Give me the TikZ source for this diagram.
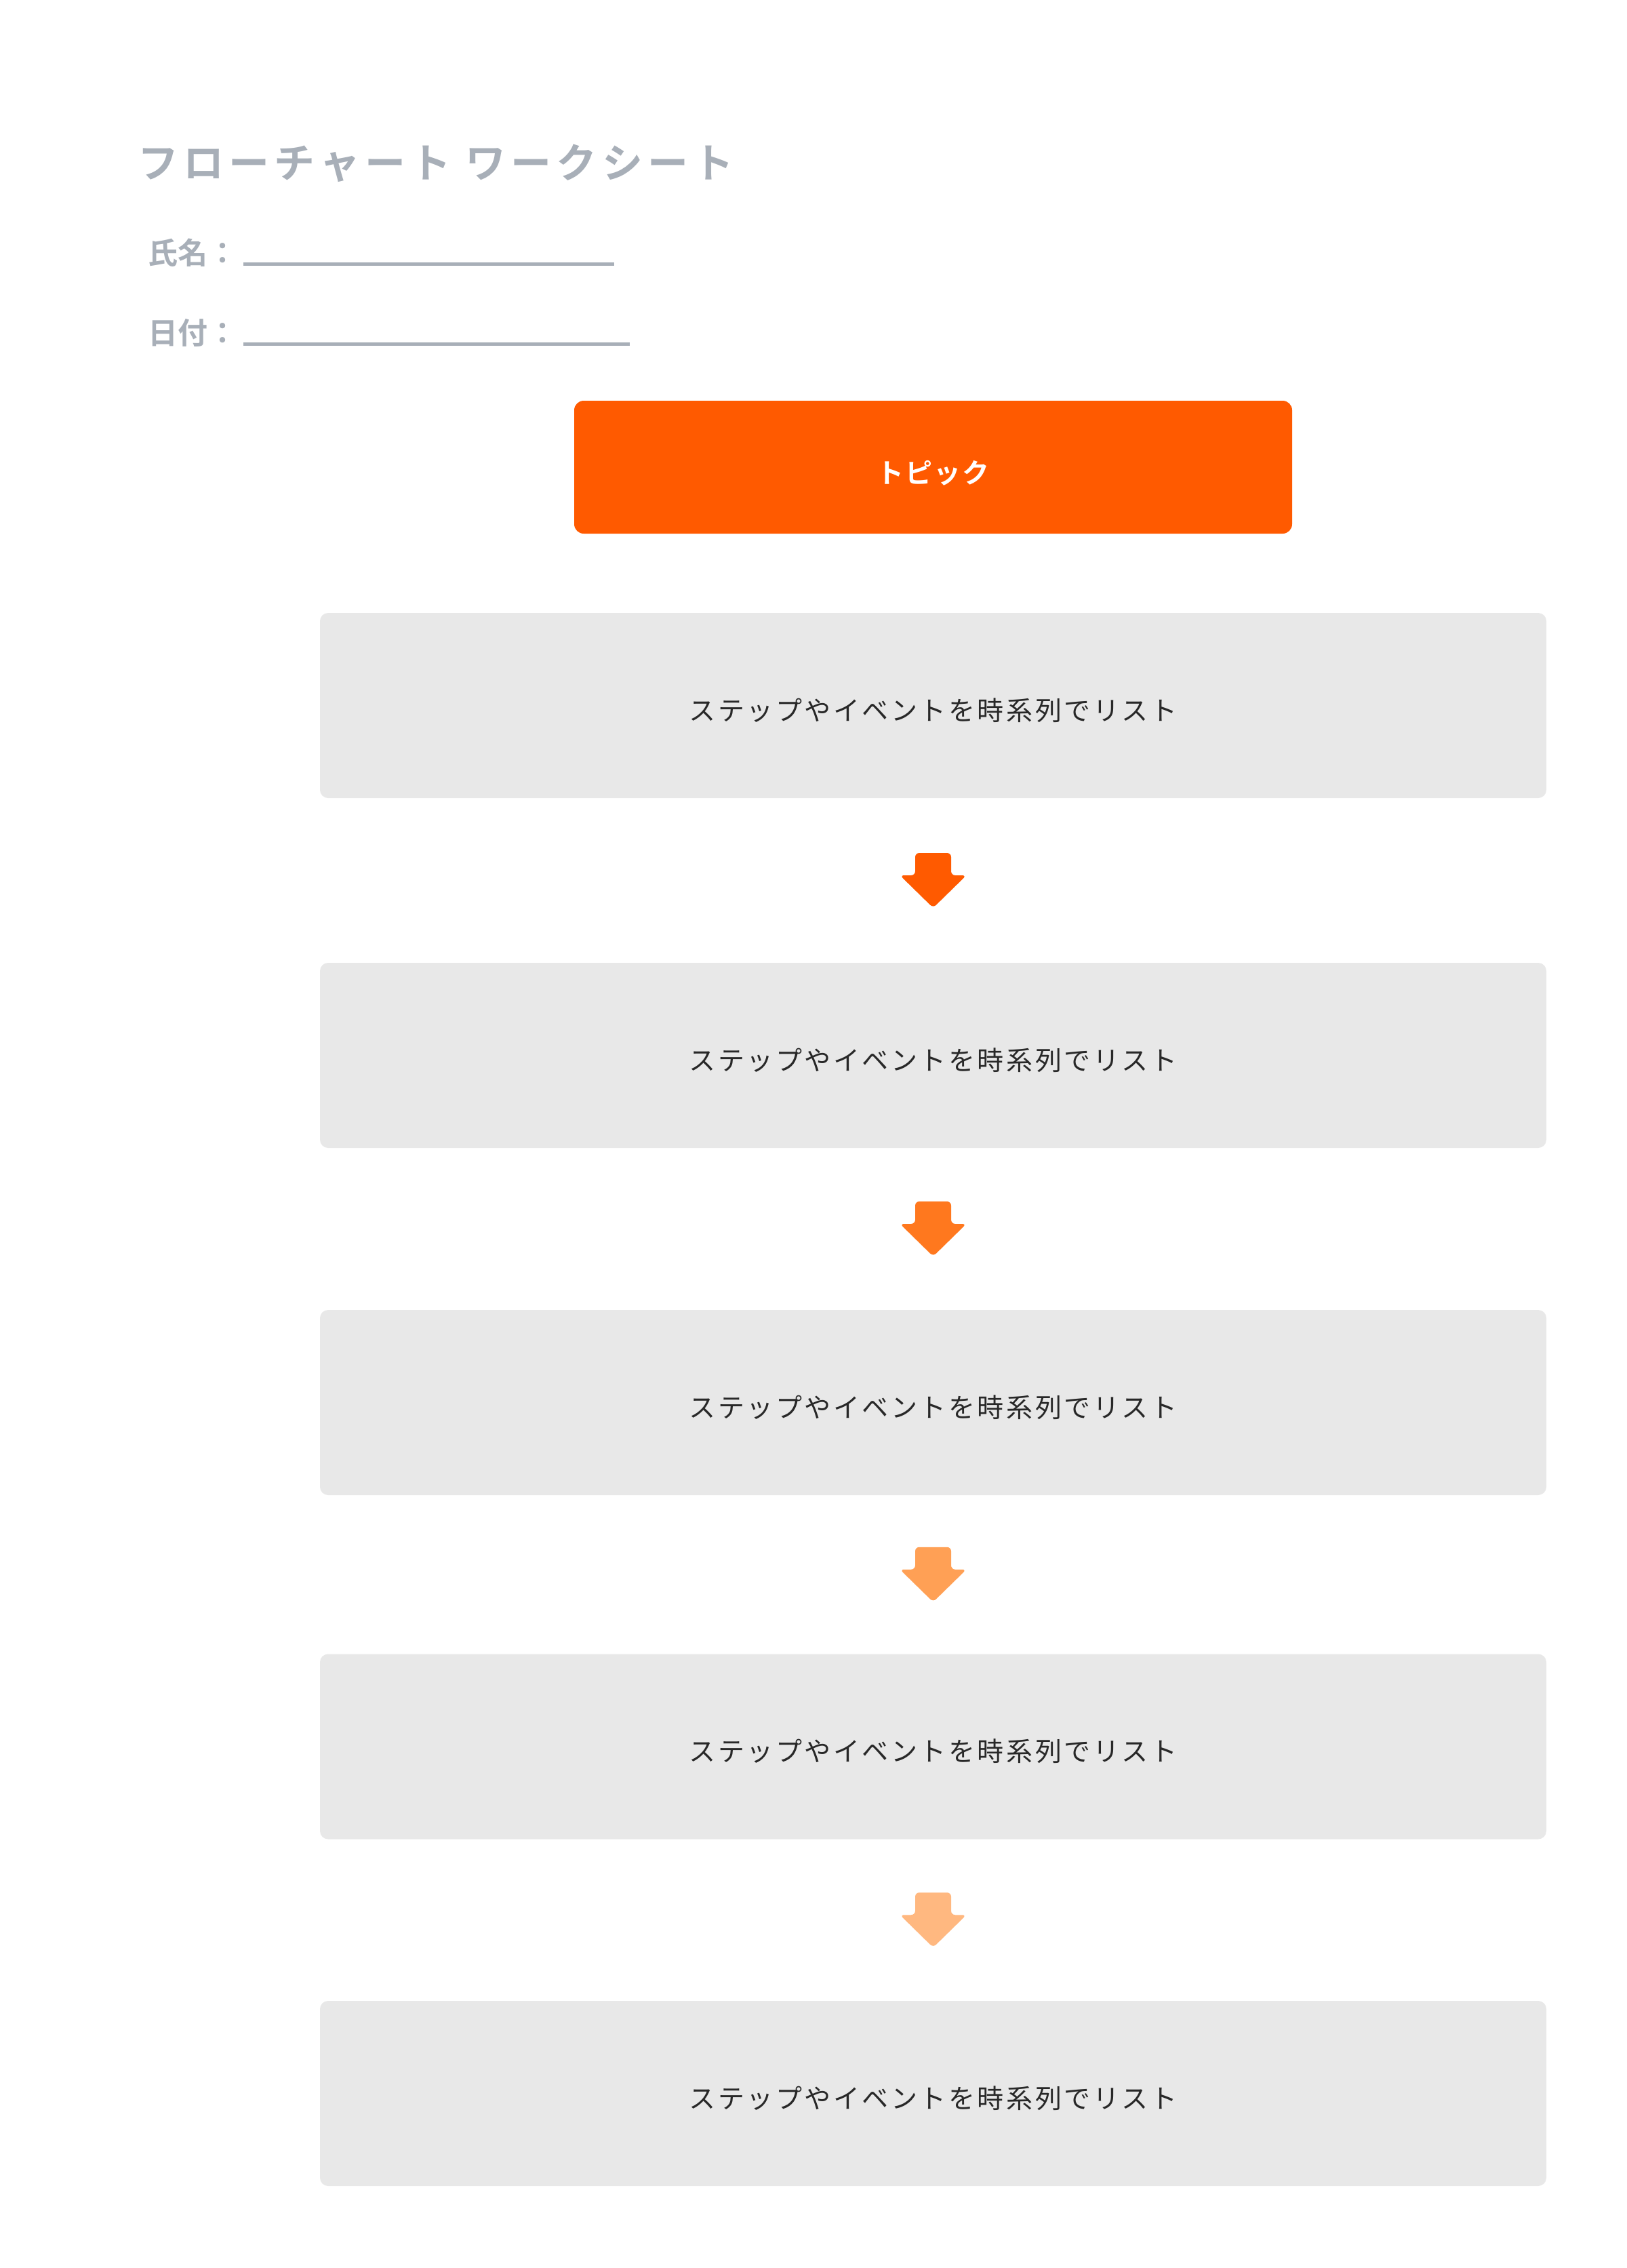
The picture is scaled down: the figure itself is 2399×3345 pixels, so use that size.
\documentclass[tikz,border=0pt]{standalone}
\usepackage{fontspec}
\setmainfont{Noto Sans CJK JP}[BoldFont={Noto Sans CJK JP Bold}]
\usetikzlibrary{calc}
\definecolor{titlegray}{RGB}{168,175,184}
\definecolor{topicorange}{RGB}{255,90,0}
\definecolor{stepgray}{RGB}{232,232,232}
\definecolor{steptext}{RGB}{40,40,40}
\definecolor{arrowA}{RGB}{255,90,0}
\definecolor{arrowB}{RGB}{255,120,30}
\definecolor{arrowC}{RGB}{255,160,85}
\definecolor{arrowD}{RGB}{255,184,128}
\tikzset{
  stepbox/.style={fill=stepgray, rounded corners=12pt, minimum width=1809pt, minimum height=273pt, inner sep=0pt,
    label={[steplabel]center:ステップやイベントを時系列でリスト}},
  steplabel/.style={text=steptext, inner sep=0pt, yshift=-7pt, font=\fontsize{39}{42}\selectfont\addfontfeature{LetterSpace=9}},
  topicbox/.style={fill=topicorange, rounded corners=14pt, minimum width=1059pt, minimum height=196pt, inner sep=0pt},
  topiclabel/.style={text=white, inner sep=0pt, yshift=-9pt, font=\fontsize{40}{44}\selectfont\bfseries\addfontfeature{LetterSpace=5}},
  labeltext/.style={text=titlegray, inner sep=0pt, anchor=base west, font=\fontsize{44}{48}\selectfont\bfseries},
  fillline/.style={draw=titlegray, line width=5pt},
  downarrow/.style={rounded corners=6pt},
}
\newcommand{\downarr}[2]{%
  \fill[downarrow, #2] ($(#1)+(-26.5,-40.5)$) -- ($(#1)+(26.5,-40.5)$) -- ($(#1)+(26.5,-7.5)$) -- ($(#1)+(49,-7.5)$)
    -- ($(#1)+(0,40.5)$) -- ($(#1)+(-49,-7.5)$) -- ($(#1)+(-26.5,-7.5)$) -- cycle;}
\begin{document}
\begin{tikzpicture}[x=1pt,y=-1pt]
\useasboundingbox[fill=white] (0,0) rectangle (2399,3345);
\node[text=titlegray, inner sep=0pt, anchor=base west, font=\fontsize{60}{64}\selectfont\bfseries\addfontfeature{LetterSpace=12}] (title) at (203,262) {フローチャート ワークシート};
\node[labeltext] (name) at (218,389) {氏名：};
\node[labeltext] (date) at (218,507) {日付：};
\coordinate (nameEnd) at (906,389);
\coordinate (dateEnd) at (929,507);
\draw[fillline] (359,389) -- (nameEnd);
\draw[fillline] (359,507) -- (dateEnd);
\node[topicbox, label={[topiclabel]center:トピック}] (topic) at (1376.5,689) {};
\node[stepbox] (s1) at (1376.5,1040.5) {};
\node[stepbox] (s2) at (1376.5,1556.5) {};
\node[stepbox] (s3) at (1376.5,2068.5) {};
\node[stepbox] (s4) at (1376.5,2576) {};
\node[stepbox] (s5) at (1376.5,3087.5) {};
\coordinate (a1) at ($(s1.south)!0.5!(s2.north)$);
\coordinate (a2) at ($(s2.south)!0.5!(s3.north)$);
\coordinate (a3) at ($(s3.south)!0.5!(s4.north)$);
\coordinate (a4) at ($(s4.south)!0.5!(s5.north)$);
\downarr{a1}{arrowA}
\downarr{a2}{arrowB}
\downarr{a3}{arrowC}
\downarr{a4}{arrowD}
\end{tikzpicture}
\end{document}
